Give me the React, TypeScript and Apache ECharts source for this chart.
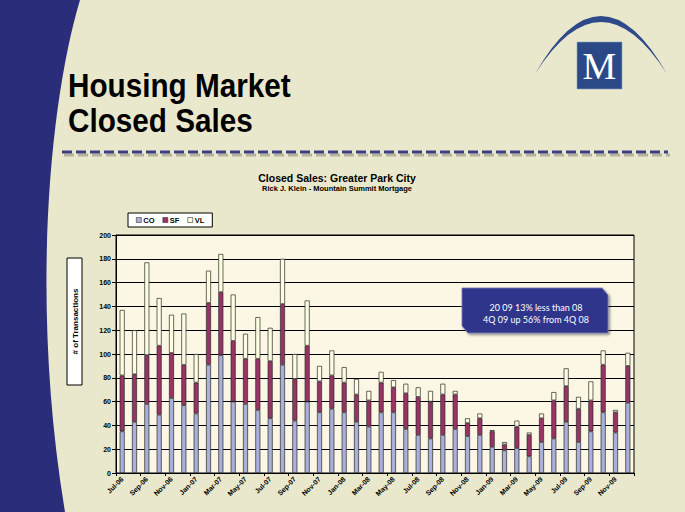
import React, { useEffect, useRef } from "react";
import * as echarts from "echarts";

const months = [
  "Jul-06", "Aug-06", "Sep-06", "Oct-06", "Nov-06", "Dec-06",
  "Jan-07", "Feb-07", "Mar-07", "Apr-07", "May-07", "Jun-07",
  "Jul-07", "Aug-07", "Sep-07", "Oct-07", "Nov-07", "Dec-07",
  "Jan-08", "Feb-08", "Mar-08", "Apr-08", "May-08", "Jun-08",
  "Jul-08", "Aug-08", "Sep-08", "Oct-08", "Nov-08", "Dec-08",
  "Jan-09", "Feb-09", "Mar-09", "Apr-09", "May-09", "Jun-09",
  "Jul-09", "Aug-09", "Sep-09", "Oct-09", "Nov-09", "Dec-09",
];

const coValues = [
  35, 43, 58, 49, 63, 57, 50, 91, 99, 60, 58, 53, 46, 91, 44, 60, 51, 54, 51, 43, 39,
  51, 51, 37, 32, 29, 32, 37, 31, 32, 22, 19, 21, 14, 26, 29, 43, 26, 35, 51, 34, 59,
];
const sfValues = [
  47, 40, 41, 58, 38, 34, 26, 52, 53, 51, 38, 43, 48, 51, 35, 47, 26, 28, 25, 23, 22,
  25, 21, 30, 32, 31, 34, 29, 11, 14, 13, 5, 18, 18, 20, 32, 30, 28, 26, 40, 17, 31,
];
const vlValues = [
  55, 37, 78, 40, 32, 43, 24, 27, 32, 39, 21, 35, 28, 38, 21, 38, 13, 21, 13, 13, 8,
  9, 6, 8, 8, 9, 9, 3, 4, 4, 1, 2, 5, 2, 4, 7, 15, 10, 16, 12, 2, 11,
];

const seriesNames = ["CO", "SF", "VL"];
const seriesColors = ["#aab0d9", "#993366", "#fdfde1"];

const yAxisName = "# of Transactions";
const slideTitle = ["Housing Market", "Closed Sales"];
const chartTitle = "Closed Sales: Greater Park City";
const chartSubtitle = "Rick J. Klein - Mountain Summit Mortgage";
const noteLines = ["20 09 13% less than 08", "4Q 09 up 56% from 4Q 08"];

const NAVY = "#2a2d7a";
const sans = "'Liberation Sans', Arial, sans-serif";

let registered = false;
function registerShapes() {
  if (registered) return;
  registered = true;
  echarts.graphic.registerShape(
    "swoosh",
    echarts.graphic.extendPath("M0,0 L80,0 C50,100 30,300 65,512 L0,512 Z", {})
  );
  echarts.graphic.registerShape(
    "crescent",
    echarts.graphic.extendPath("M535,74 Q601,-42 667,74 Q601,-30 535,74 Z", {})
  );
}

export default function App() {
  const ref = useRef<HTMLDivElement>(null);

  useEffect(() => {
    if (!ref.current) return;
    registerShapes();
    document.body.style.margin = "0";
    const chart = echarts.init(ref.current, undefined, { renderer: "svg" });

    const datas = [coValues, sfValues, vlValues];

    chart.setOption({
      animation: false,
      backgroundColor: "#e9e8cc",
      grid: {
        left: 116,
        right: 51,
        top: 235,
        bottom: 39,
        show: true,
        backgroundColor: "#fbf7e4",
        borderColor: "#000",
        borderWidth: 1,
      },
      legend: {
        left: 128,
        top: 213,
        data: seriesNames,
        orient: "horizontal",
        itemWidth: 5,
        itemHeight: 5,
        itemGap: 8,
        padding: [3, 8, 3, 8],
        backgroundColor: "#ffffff",
        borderColor: "#000",
        borderWidth: 1,
        borderRadius: 0,
        icon: "rect",
        itemStyle: { borderColor: "#333", borderWidth: 0.6 },
        textStyle: { fontSize: 7.5, fontWeight: "bold", fontFamily: sans, color: "#000", padding: [0, 0, 0, -3] },
      },
      xAxis: {
        type: "category",
        data: months,
        boundaryGap: true,
        axisLine: { lineStyle: { color: "#000", width: 1 } },
        axisTick: { show: true, interval: 1, length: 3, lineStyle: { color: "#000" } },
        axisLabel: {
          interval: 1,
          rotate: 45,
          fontSize: 7,
          fontWeight: "bold",
          fontFamily: sans,
          color: "#000",
          margin: 5,
        },
        splitLine: { show: false },
      },
      yAxis: {
        type: "value",
        min: 0,
        max: 200,
        interval: 20,
        axisLine: { show: true, lineStyle: { color: "#000", width: 1 } },
        axisTick: { show: true, length: 4, lineStyle: { color: "#000" } },
        axisLabel: {
          fontSize: 7,
          fontWeight: "bold",
          fontFamily: sans,
          color: "#000",
          margin: 5,
        },
        splitLine: { show: true, lineStyle: { color: "#000", width: 1 } },
      },
      series: seriesNames.map((name, i) => ({
        name,
        type: "bar",
        stack: "total",
        barWidth: 5,
        data: datas[i],
        itemStyle: { color: seriesColors[i], borderColor: "#2a2a2a", borderWidth: 0.7 },
        emphasis: { disabled: true },
      })),
      graphic: [
        {
          type: "swoosh",
          x: 0,
          y: 0,
          z: -1,
          silent: true,
          style: { fill: NAVY },
        },
        {
          type: "crescent",
          x: 0,
          y: 0,
          silent: true,
          style: { fill: "#2e4a8a" },
        },
        {
          type: "rect",
          shape: { x: 577, y: 42, width: 45, height: 47 },
          silent: true,
          style: { fill: "#2b4987", stroke: "#8fa0c4", lineWidth: 0.6 },
        },
        {
          type: "text",
          x: 599.5,
          y: 66,
          silent: true,
          style: {
            text: "M",
            fill: "#ffffff",
            font: "38px 'Liberation Serif', 'DejaVu Serif', serif",
            align: "center",
            verticalAlign: "middle",
          },
        },
        {
          type: "text",
          x: 68,
          y: 69,
          scaleX: 0.9,
          silent: true,
          style: {
            text: slideTitle[0],
            fill: "#000",
            font: `bold 33px ${sans}`,
            align: "left",
            verticalAlign: "top",
          },
        },
        {
          type: "text",
          x: 68,
          y: 104,
          scaleX: 0.9,
          silent: true,
          style: {
            text: slideTitle[1],
            fill: "#000",
            font: `bold 33px ${sans}`,
            align: "left",
            verticalAlign: "top",
          },
        },
        {
          type: "line",
          silent: true,
          shape: { x1: 64, y1: 155, x2: 670, y2: 155 },
          style: {
            stroke: "rgba(80,80,70,0.35)",
            lineWidth: 3,
            lineDash: [10, 4],
          },
        },
        {
          type: "line",
          silent: true,
          shape: { x1: 62, y1: 152, x2: 668, y2: 152 },
          style: {
            stroke: "#3b3e82",
            lineWidth: 3,
            lineDash: [10, 4],
          },
        },
        {
          type: "text",
          x: 337,
          y: 178,
          silent: true,
          style: {
            text: chartTitle,
            fill: "#000",
            font: `bold 10.5px ${sans}`,
            align: "center",
            verticalAlign: "middle",
          },
        },
        {
          type: "text",
          x: 337,
          y: 188,
          silent: true,
          style: {
            text: chartSubtitle,
            fill: "#000",
            font: `bold 7.5px ${sans}`,
            align: "center",
            verticalAlign: "middle",
          },
        },
        {
          type: "rect",
          silent: true,
          shape: { x: 67, y: 258, width: 15, height: 127 },
          style: { fill: "#ffffff", stroke: "#000", lineWidth: 1 },
        },
        {
          type: "text",
          x: 75,
          y: 321.5,
          rotation: Math.PI / 2,
          silent: true,
          style: {
            text: yAxisName,
            fill: "#000",
            font: `bold 8px ${sans}`,
            align: "center",
            verticalAlign: "middle",
          },
        },
        {
          type: "polygon",
          silent: true,
          z: 100,
          shape: {
            points: [
              [462, 288],
              [602, 288],
              [608, 295],
              [608, 333],
              [468, 333],
              [462, 326],
            ],
          },
          style: {
            fill: "#2e358a",
            stroke: "#7a7fb5",
            lineWidth: 0.8,
            shadowColor: "rgba(0,0,0,0.45)",
            shadowBlur: 2,
            shadowOffsetX: 1.5,
            shadowOffsetY: 1.5,
          },
        },
        {
          type: "text",
          x: 536,
          y: 307,
          z: 101,
          silent: true,
          style: {
            text: noteLines[0],
            fill: "#ffffff",
            font: "9px Lato, 'Open Sans', sans-serif",
            align: "center",
            verticalAlign: "middle",
          },
        },
        {
          type: "text",
          x: 536,
          y: 319,
          z: 101,
          silent: true,
          style: {
            text: noteLines[1],
            fill: "#ffffff",
            font: "9px Lato, 'Open Sans', sans-serif",
            align: "center",
            verticalAlign: "middle",
          },
        },
      ],
    });

    return () => chart.dispose();
  }, []);

  return (
    <div
      ref={ref}
      style={{ position: "absolute", left: 0, top: 0, width: 685, height: 512 }}
    />
  );
}
